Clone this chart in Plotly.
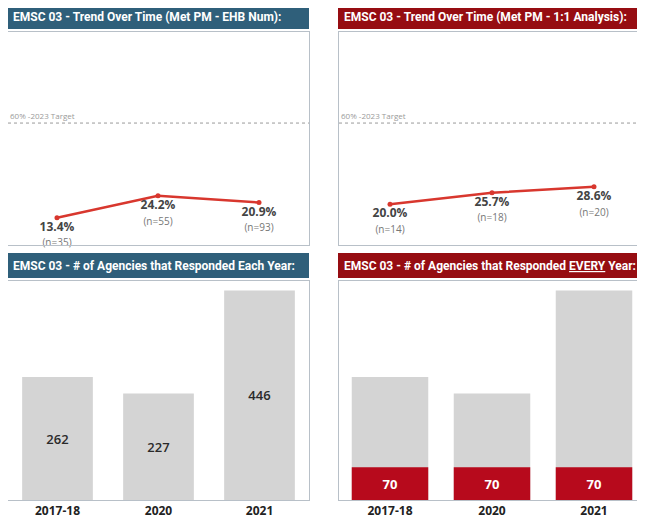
import plotly.graph_objects as go

# page has an 8px body margin: figure occupies screen (8..645, 8..521)
OFF = 8
W, H = 645 - OFF, 521 - OFF

years = ["2017-18", "2020", "2021"]
ehb_pct = [13.4, 24.2, 20.9]
ehb_n = [35, 55, 93]
one_pct = [20.0, 25.7, 28.6]
one_n = [14, 18, 20]
agencies_each = [262, 227, 446]
agencies_every = [70, 70, 70]
target = 60
target_label = "60% -2023 Target"

titles = [
    "EMSC 03 - Trend Over Time (Met PM - EHB Num):",
    "EMSC 03 - Trend Over Time (Met PM - 1:1 Analysis):",
    "EMSC 03 - # of Agencies that Responded Each Year:",
    "EMSC 03 - # of Agencies that Responded <u>EVERY</u> Year:",
]

TEAL = "#2f5f7a"
DARKRED = "#960d12"
LINE_RED = "#d8372e"
BAR_GREY = "#d4d4d4"
BAR_RED = "#b70a1c"
BORDER = "#b8c0c8"


def px(x):
    return max(0.0, (x - OFF) / W)


def py(y):
    return min(1.0, 1 - (y - OFF) / H)


fig = go.Figure()
xs = list(range(len(years)))


def lbl(p, n):
    return (f"<b>{p:.1f}%</b><br>"
            f"<span style='font-size:10px;color:#777777'>(n={n})</span>")


# Line charts
fig.add_trace(go.Scatter(
    x=xs, y=ehb_pct, mode="lines+markers+text",
    line=dict(color=LINE_RED, width=2.5), marker=dict(color=LINE_RED, size=5),
    text=[lbl(p, n) for p, n in zip(ehb_pct, ehb_n)],
    textposition="bottom center", textfont=dict(size=12, color="#444444"),
    xaxis="x", yaxis="y", showlegend=False, hoverinfo="skip", cliponaxis=False))
fig.add_trace(go.Scatter(
    x=xs, y=one_pct, mode="lines+markers+text",
    line=dict(color=LINE_RED, width=2.5), marker=dict(color=LINE_RED, size=5),
    text=[lbl(p, n) for p, n in zip(one_pct, one_n)],
    textposition="bottom center", textfont=dict(size=12, color="#444444"),
    xaxis="x2", yaxis="y2", showlegend=False, hoverinfo="skip", cliponaxis=False))

# Bar charts
fig.add_trace(go.Bar(
    x=xs, y=agencies_each, marker=dict(color=BAR_GREY, line=dict(width=0)),
    width=0.7, text=[str(v) for v in agencies_each],
    textposition="inside", insidetextanchor="middle",
    textfont=dict(size=13, color="#2a2a2a", weight=600),
    xaxis="x3", yaxis="y3", showlegend=False, hoverinfo="skip"))
fig.add_trace(go.Bar(
    x=xs, y=agencies_each, marker=dict(color=BAR_GREY, line=dict(width=0)),
    width=0.75, textposition="none",
    xaxis="x4", yaxis="y4", showlegend=False, hoverinfo="skip"))
fig.add_trace(go.Bar(
    x=xs, y=agencies_every, marker=dict(color=BAR_RED, line=dict(width=0)),
    width=0.75, text=[f"<b>{v}</b>" for v in agencies_every],
    textposition="inside", insidetextanchor="middle",
    textfont=dict(size=13, color="white"),
    xaxis="x4", yaxis="y4", showlegend=False, hoverinfo="skip"))

panels = {
    "": ((8, 309), (32, 245), (-0.485, 2.495), (0, 104.8)),
    "2": ((339, 645), (32, 245), (-0.5, 2.5), (0, 104.8)),
    "3": ((8, 309), (281, 500), (-0.49, 2.49), (0, 466.5)),
    "4": ((339, 645), (281, 500), (-0.5, 2.5), (0, 466.5)),
}

layout = dict(
    width=W, height=H, margin=dict(l=0, r=0, t=0, b=0),
    paper_bgcolor="white", plot_bgcolor="white",
    barmode="overlay", font=dict(family="Open Sans, sans-serif"),
    shapes=[], annotations=[],
)

for k, ((x0, x1), (y0, y1), xr, yr) in panels.items():
    is_bar = k in ("3", "4")
    layout["xaxis" + k] = dict(
        domain=[px(x0), px(x1)], range=list(xr), anchor="y" + k,
        showgrid=False, zeroline=False, showline=True, mirror=True,
        linecolor=BORDER, linewidth=1,
        tickmode="array", tickvals=xs, ticktext=years,
        showticklabels=is_bar, ticks="",
        tickfont=dict(size=12, color="#222222", family="Open Sans, sans-serif", weight="bold"),
        fixedrange=True,
    )
    layout["yaxis" + k] = dict(
        domain=[py(y1), py(y0)], range=list(yr), anchor="x" + k,
        showgrid=False, zeroline=False, showline=True, mirror=True,
        linecolor=BORDER, linewidth=1, showticklabels=False, ticks="",
        fixedrange=True,
    )

# Target lines
for k in ("", "2"):
    layout["shapes"].append(dict(
        type="line", xref=f"x{k} domain", yref=f"y{k}", x0=0, x1=1,
        y0=target, y1=target, line=dict(color="#9a9a9a", width=1, dash="dot")))
    layout["annotations"].append(dict(
        xref=f"x{k} domain", yref=f"y{k}", x=0, y=target, text=target_label,
        showarrow=False, xanchor="left", yanchor="bottom", xshift=0, yshift=0,
        font=dict(size=8, color="#9a9a9a")))

# Title bars
bars = [
    ((7, 309), (5, 29), TEAL, titles[0]),
    ((338, 645), (5, 29), DARKRED, titles[1]),
    ((7, 309), (253, 278), TEAL, titles[2]),
    ((338, 645), (253, 278), DARKRED, titles[3]),
]
for (x0, x1), (y0, y1), col, t in bars:
    layout["shapes"].append(dict(
        type="rect", xref="paper", yref="paper", x0=px(x0), x1=px(x1),
        y0=py(y1), y1=py(y0), fillcolor=col, line=dict(width=0), layer="below"))
    layout["annotations"].append(dict(
        xref="paper", yref="paper", x=px(x0 + 4), y=1 - ((y0 + y1) / 2 - OFF) / H,
        text=f"<b>{t}</b>", showarrow=False, xanchor="left", yanchor="middle",
        font=dict(size=12, color="white", family="Roboto, sans-serif")))

fig.update_layout(**layout)
fig.write_html("out.html")
